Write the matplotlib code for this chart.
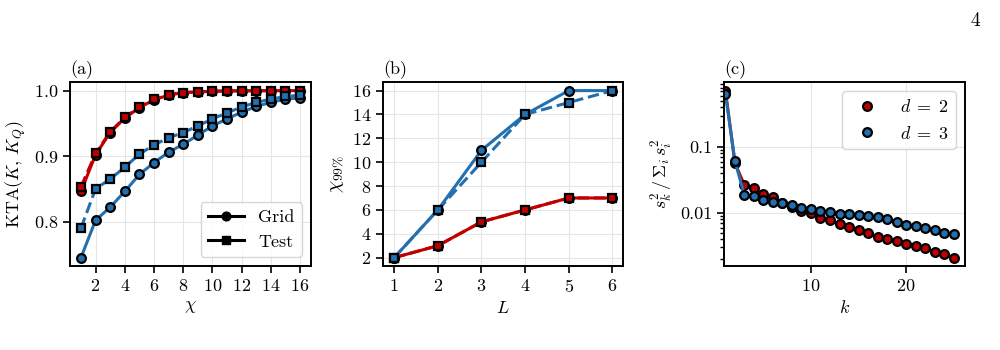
import matplotlib
matplotlib.use("Agg")
from matplotlib import pyplot as plt
from matplotlib.lines import Line2D
import numpy as np

plt.rcParams['font.family'] = 'serif'
plt.rcParams['font.serif'] = ['cmr10', 'DejaVu Serif']
plt.rcParams['mathtext.fontset'] = 'cm'
plt.rcParams['axes.formatter.use_mathtext'] = True
plt.rcParams['font.size'] = 13
plt.rcParams['axes.unicode_minus'] = False

RED = '#c00000'
BLUE = '#2370b0'

# (a) KTA vs chi
chi = list(range(1, 17))
kta_red_grid = [0.846, 0.902, 0.936, 0.958, 0.974, 0.986, 0.993, 0.997,
                0.998, 0.999, 0.9995, 0.9997, 0.9998, 0.9999, 0.9999, 1.0]
kta_red_test = [0.853, 0.904, 0.937, 0.959, 0.975, 0.987, 0.994, 0.997,
                0.998, 0.999, 0.9995, 0.9997, 0.9998, 0.9999, 0.9999, 1.0]
kta_blue_grid = [0.745, 0.802, 0.822, 0.846, 0.872, 0.890, 0.906, 0.918,
                 0.932, 0.946, 0.957, 0.967, 0.976, 0.982, 0.987, 0.989]
kta_blue_test = [0.790, 0.850, 0.865, 0.883, 0.903, 0.917, 0.928, 0.936,
                 0.946, 0.957, 0.966, 0.975, 0.982, 0.987, 0.991, 0.993]

# (b) chi_99% vs L
L = [1, 2, 3, 4, 5, 6]
chi99_red_grid = [2, 3, 5, 6, 7, 7]
chi99_red_test = [2, 3, 5, 6, 7, 7]
chi99_blue_grid = [2, 6, 11, 14, 16, 16]
chi99_blue_test = [2, 6, 10, 14, 15, 16]

# (c) normalised singular values
k = list(range(1, 26))
sv_d2 = [0.72, 0.057, 0.0265, 0.024, 0.0194, 0.0175, 0.0142, 0.0122, 0.0109,
         0.0099, 0.0085, 0.0078, 0.0068, 0.0062, 0.0056, 0.0049, 0.0043,
         0.0041, 0.0038, 0.0034, 0.0032, 0.0029, 0.0026, 0.0024, 0.0021]
sv_d3 = [0.65, 0.061, 0.0187, 0.018, 0.0158, 0.0149, 0.0141, 0.0133, 0.0121,
         0.0115, 0.0108, 0.0102, 0.0098, 0.0095, 0.0093, 0.0090, 0.0086,
         0.0082, 0.0073, 0.0066, 0.0064, 0.0059, 0.0055, 0.0050, 0.0048]

lw = 2.2
ms = 6.3
mew = 1.6

fig = plt.figure(figsize=(10, 3.5), dpi=100)
axa = fig.add_axes([0.070, 0.240, 0.241, 0.525])
axb = fig.add_axes([0.3833, 0.240, 0.240, 0.525])
axc = fig.add_axes([0.724, 0.240, 0.241, 0.525])

def style(ax):
    ax.grid(True, color='#e6e6e6', lw=0.8)
    ax.set_axisbelow(True)
    for s in ax.spines.values():
        s.set_linewidth(1.4)
        s.set_color('black')
    ax.tick_params(which='major', direction='out', length=5, width=1.2,
                   labelsize=13)
    ax.tick_params(which='minor', direction='out', length=3, width=1.0)

def series(ax, x, y, c, ls, mk):
    ax.plot(x, y, color=c, ls=ls, lw=lw, marker=mk, ms=ms,
            mec='black', mew=mew, mfc=c)

# panel (a)
series(axa, chi, kta_red_grid, RED, '-', 'o')
series(axa, chi, kta_red_test, RED, '--', 's')
series(axa, chi, kta_blue_grid, BLUE, '-', 'o')
series(axa, chi, kta_blue_test, BLUE, '--', 's')
axa.set_xticks([2, 4, 6, 8, 10, 12, 14, 16])
axa.set_yticks([0.8, 0.9, 1.0])
axa.set_xlabel(r'$\chi$')
axa.set_ylabel(r'KTA$(K,\,K_Q)$')
axa.set_title('(a)', loc='left', fontsize=13)
handles = [Line2D([], [], color='black', lw=lw, marker='o', ms=ms, ls='-'),
           Line2D([], [], color='black', lw=lw, marker='s', ms=ms, ls='-')]
axa.legend(handles, ['Grid', 'Test'], loc='lower right', fontsize=13)
style(axa)

# panel (b)
series(axb, L, chi99_red_grid, RED, '-', 'o')
series(axb, L, chi99_red_test, RED, '--', 's')
series(axb, L, chi99_blue_grid, BLUE, '-', 'o')
series(axb, L, chi99_blue_test, BLUE, '--', 's')
axb.set_yticks([2, 4, 6, 8, 10, 12, 14, 16])
axb.set_xticks(L)
axb.set_xlabel(r'$L$')
axb.set_ylabel(r'$\chi_{99\%}$', fontsize=14)
axb.set_title('(b)', loc='left', fontsize=13)
style(axb)

# panel (c)
axc.plot(k, sv_d2, color=RED, lw=lw, marker='o', ms=ms, mec='black',
         mew=mew, mfc=RED, label=r'$d = 2$')
axc.plot(k, sv_d3, color=BLUE, lw=lw, marker='o', ms=ms, mec='black',
         mew=mew, mfc=BLUE, label=r'$d = 3$')
axc.set_yscale('log')
axc.set_yticks([0.01, 0.1], labels=['0.01', '0.1'])
axc.set_xlim(0.85, 26.2)
axc.set_xticks([10, 20])
axc.set_xlabel(r'$k$')
axc.set_ylabel(r'$s_k^2\,/\,\Sigma_i\,s_i^2$')
axc.set_title('(c)', loc='left', fontsize=13)
leg_h = [Line2D([], [], ls='none', marker='o', ms=ms, mfc=RED, mec='black', mew=mew),
         Line2D([], [], ls='none', marker='o', ms=ms, mfc=BLUE, mec='black', mew=mew)]
axc.legend(leg_h, [r'$d\;=\;2$', r'$d\;=\;3$'], loc='upper right', fontsize=13)
style(axc)

fig.text(0.975, 0.965, '4', fontsize=14, ha='center', va='top')

fig.savefig('out.png', dpi=100)
plt.close()
